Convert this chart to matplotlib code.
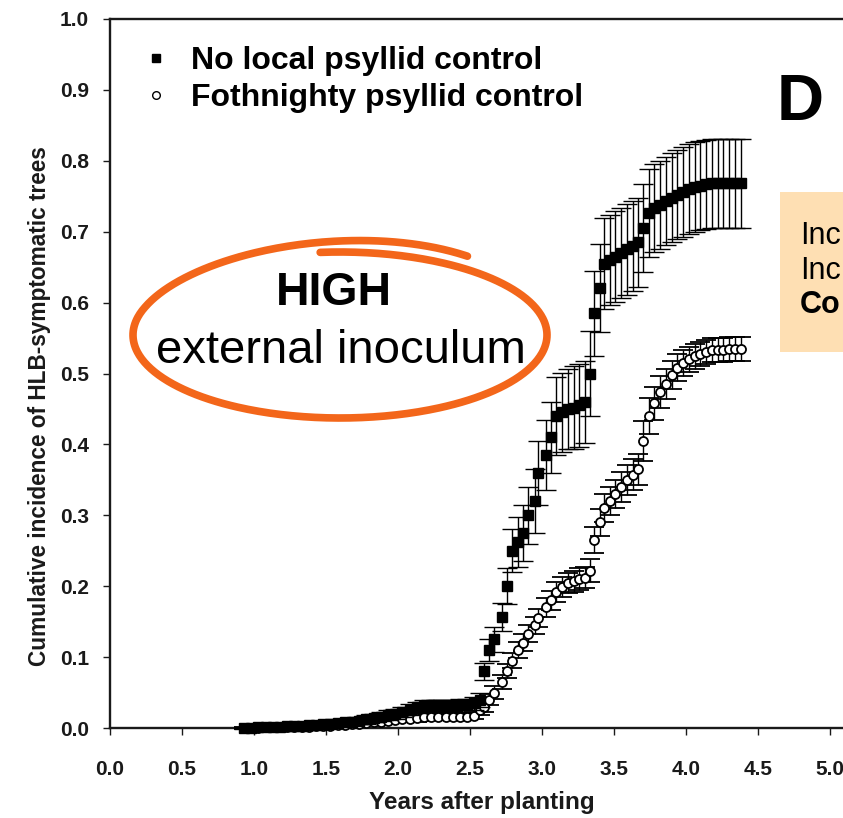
import numpy as np
import matplotlib
matplotlib.use('Agg')
import matplotlib.pyplot as plt
from matplotlib.lines import Line2D
from matplotlib.patches import Rectangle

plt.rcParams['font.family'] = ['Liberation Sans', 'DejaVu Sans']

# years after planting (shared sampling dates)
years = [0.93, 0.98, 1.03, 1.08, 1.13, 1.18, 1.23, 1.28, 1.33, 1.38,
         1.43, 1.48, 1.53, 1.58, 1.63, 1.68, 1.73, 1.78, 1.83, 1.88,
         1.93, 1.98, 2.03, 2.08, 2.13, 2.18, 2.23, 2.28, 2.33, 2.38,
         2.43, 2.48, 2.53, 2.57, 2.60, 2.63, 2.67, 2.72, 2.76, 2.79,
         2.83, 2.87, 2.90, 2.95, 2.97, 3.03, 3.06, 3.10, 3.14, 3.18,
         3.22, 3.26, 3.30, 3.33, 3.36, 3.40, 3.43, 3.47, 3.51, 3.55,
         3.59, 3.63, 3.67, 3.70, 3.74, 3.78, 3.82, 3.86, 3.90, 3.94,
         3.98, 4.02, 4.06, 4.10, 4.14, 4.18, 4.22, 4.26, 4.30, 4.34,
         4.38]

# no local psyllid control (filled squares)
no_control = [0.000, 0.000, 0.001, 0.001, 0.002, 0.002, 0.003, 0.003, 0.003, 0.004,
              0.004, 0.005, 0.006, 0.007, 0.008, 0.009, 0.010, 0.012, 0.014, 0.016,
              0.018, 0.020, 0.023, 0.026, 0.029, 0.031, 0.032, 0.032, 0.032, 0.032,
              0.033, 0.033, 0.035, 0.040, 0.080, 0.110, 0.125, 0.157, 0.200, 0.250,
              0.262, 0.275, 0.300, 0.320, 0.360, 0.385, 0.410, 0.440, 0.445, 0.450,
              0.452, 0.455, 0.460, 0.500, 0.585, 0.620, 0.655, 0.660, 0.665, 0.670,
              0.675, 0.680, 0.685, 0.705, 0.727, 0.733, 0.738, 0.743, 0.748, 0.752,
              0.756, 0.760, 0.763, 0.765, 0.767, 0.768, 0.768, 0.768, 0.768, 0.768,
              0.768]
no_control_err = [0.002, 0.002, 0.002, 0.002, 0.003, 0.003, 0.003, 0.003, 0.003, 0.004,
                  0.004, 0.004, 0.004, 0.005, 0.005, 0.005, 0.005, 0.006, 0.006, 0.006,
                  0.007, 0.007, 0.007, 0.008, 0.008, 0.008, 0.008, 0.008, 0.008, 0.008,
                  0.008, 0.008, 0.009, 0.010, 0.012, 0.015, 0.018, 0.020, 0.025, 0.030,
                  0.035, 0.040, 0.040, 0.045, 0.045, 0.050, 0.050, 0.055, 0.056, 0.057,
                  0.058, 0.058, 0.058, 0.060, 0.060, 0.062, 0.064, 0.064, 0.064, 0.064,
                  0.064, 0.064, 0.063, 0.062, 0.062, 0.062, 0.062, 0.062, 0.063, 0.063,
                  0.063, 0.063, 0.063, 0.063, 0.063, 0.063, 0.063, 0.063, 0.063, 0.063,
                  0.063]

# Fothnighty psyllid control (open circles)
fothnighty = [0.000, 0.000, 0.000, 0.001, 0.001, 0.001, 0.002, 0.002, 0.002, 0.002,
              0.003, 0.003, 0.003, 0.004, 0.004, 0.005, 0.006, 0.007, 0.008, 0.009,
              0.010, 0.011, 0.012, 0.013, 0.014, 0.015, 0.016, 0.016, 0.016, 0.016,
              0.016, 0.016, 0.017, 0.025, 0.030, 0.040, 0.050, 0.065, 0.080, 0.095,
              0.110, 0.120, 0.133, 0.145, 0.155, 0.170, 0.180, 0.192, 0.199, 0.204,
              0.207, 0.210, 0.212, 0.222, 0.265, 0.290, 0.310, 0.320, 0.330, 0.340,
              0.350, 0.357, 0.365, 0.405, 0.440, 0.458, 0.474, 0.485, 0.498, 0.508,
              0.515, 0.520, 0.524, 0.528, 0.530, 0.533, 0.533, 0.533, 0.534, 0.534,
              0.534]
fothnighty_err = [0.001, 0.001, 0.001, 0.001, 0.001, 0.001, 0.002, 0.002, 0.002, 0.002,
                  0.002, 0.002, 0.002, 0.003, 0.003, 0.003, 0.003, 0.003, 0.004, 0.004,
                  0.004, 0.004, 0.004, 0.005, 0.005, 0.005, 0.005, 0.005, 0.005, 0.005,
                  0.005, 0.005, 0.005, 0.006, 0.007, 0.008, 0.009, 0.010, 0.010, 0.011,
                  0.011, 0.012, 0.012, 0.012, 0.013, 0.013, 0.013, 0.014, 0.014, 0.014,
                  0.015, 0.015, 0.015, 0.016, 0.018, 0.019, 0.020, 0.020, 0.020, 0.021,
                  0.021, 0.022, 0.022, 0.028, 0.025, 0.023, 0.022, 0.021, 0.020, 0.019,
                  0.018, 0.018, 0.017, 0.017, 0.017, 0.017, 0.017, 0.017, 0.017, 0.017,
                  0.017]

labels = ['No local psyllid control', 'Fothnighty psyllid control']
x_ticks = [0.0, 0.5, 1.0, 1.5, 2.0, 2.5, 3.0, 3.5, 4.0, 4.5, 5.0]
y_ticks = [0.0, 0.1, 0.2, 0.3, 0.4, 0.5, 0.6, 0.7, 0.8, 0.9, 1.0]
note_lines = ['Inc', 'Inc', 'Co']   # only this much of the note is inside the frame

W, H = 843, 818
ORANGE = '#F3661A'


def fx(px):
    return np.asarray(px) / W


def fy(py):
    return 1 - np.asarray(py) / H


fig = plt.figure(figsize=(W / 100, H / 100), dpi=100)

# axes: x=0 at 110 px, y=0 at 728 px, y=1 at 19 px; runs off the right edge
x0, y0, ytop = 110, 728, 19
ax = fig.add_axes([fx(x0), fy(y0), (W - x0) / W, (y0 - ytop) / H])
ax.set_xlim(0, (W - x0) / 144.0)
ax.set_ylim(0, 1)

ax.errorbar(years, fothnighty, yerr=fothnighty_err, fmt='o', ms=6.5,
            mfc='white', mec='black', mew=1.3, ecolor='black', elinewidth=1.0,
            capsize=7, capthick=1.0, clip_on=False, zorder=3)
ax.errorbar(years, no_control, yerr=no_control_err, fmt='s', ms=7.5,
            mfc='black', mec='black', ecolor='black', elinewidth=1.0,
            capsize=7, capthick=1.0, clip_on=False, zorder=4)

ax.set_xticks(x_ticks)
ax.set_yticks(y_ticks)
ax.set_xticklabels([f'{v:.1f}' for v in x_ticks])
ax.set_yticklabels([f'{v:.1f}' for v in y_ticks])
ax.tick_params(axis='both', direction='out', length=5, width=1.0, labelsize=15,
               colors='#1a1a1a')
ax.tick_params(axis='x', pad=18)
ax.tick_params(axis='y', pad=10)
plt.setp(ax.get_xticklabels() + ax.get_yticklabels(), fontweight='bold')

for side in ['left', 'bottom', 'top']:
    ax.spines[side].set_linewidth(1.7)
    ax.spines[side].set_color('#1a1a1a')
ax.spines['right'].set_visible(False)

fig.text(fx(482), fy(802), 'Years after planting', ha='center', va='center',
         fontsize=17.5, fontweight='bold', color='#1a1a1a')
fig.text(fx(40), fy(406), 'Cumulative incidence of HLB-symptomatic trees',
         ha='center', va='center', rotation=90, fontsize=16.3,
         fontweight='bold', color='#1a1a1a')

handles = [Line2D([], [], ls='none', marker='s', ms=6, mfc='black', mec='black'),
           Line2D([], [], ls='none', marker='o', ms=5.5, mfc='white', mec='black')]
ax.legend(handles, labels, loc='upper left',
          bbox_to_anchor=(fx(121), fy(30)), bbox_transform=fig.transFigure,
          frameon=False, borderpad=0, handlelength=1.2, handletextpad=0.5,
          labelspacing=0.22, prop={'size': 23, 'weight': 'bold'})

# panel letter
fig.text(fx(800), fy(103), 'D', ha='center', va='center', fontsize=47,
         fontweight='bold')

# hand-drawn orange loop round the annotation
t_deg = np.linspace(95.5, -308, 500)
t = np.radians(t_deg)
b = 83 + np.clip((-t_deg - 200) / 108, 0, 1) * 17
loop_x = 340 + 207 * np.cos(t)
loop_y = 335 - b * np.sin(t)
fig.add_artist(Line2D(fx(loop_x), fy(loop_y), color=ORANGE, lw=5.5,
                      solid_capstyle='round', solid_joinstyle='round'))
fig.text(fx(334), fy(305), 'HIGH', ha='center', va='baseline', fontsize=33.5,
         fontweight='bold')
fig.text(fx(341), fy(363), 'external inoculum', ha='center', va='baseline',
         fontsize=34)

# note box at the right edge, cut by the frame
fig.add_artist(Rectangle((fx(780), fy(352)), 100 / W, 160 / H,
                         transform=fig.transFigure, facecolor='#FEDFB3',
                         edgecolor='none'))
fig.text(fx(800), fy(244), note_lines[0], ha='left', va='baseline', fontsize=22)
fig.text(fx(800), fy(279), note_lines[1], ha='left', va='baseline', fontsize=22)
fig.text(fx(800), fy(313), note_lines[2], ha='left', va='baseline', fontsize=22,
         fontweight='bold')

fig.savefig('out.png', dpi=100)
